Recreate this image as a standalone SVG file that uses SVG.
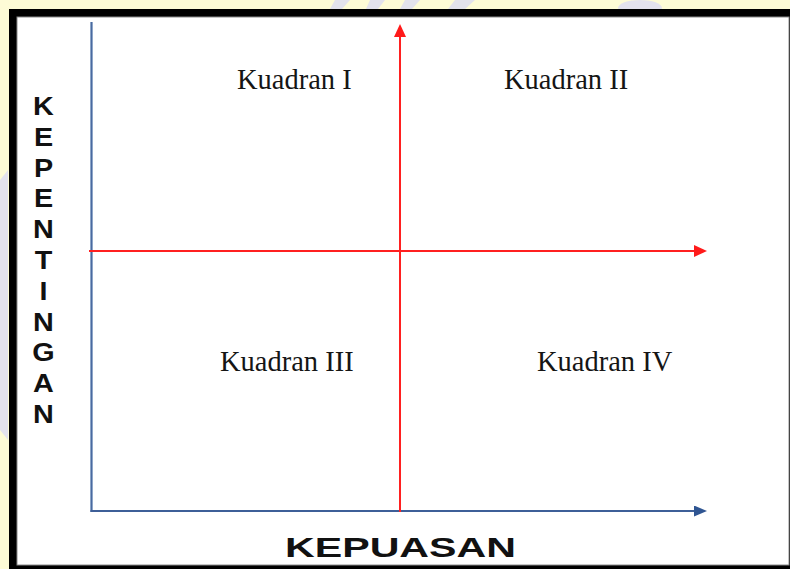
<svg xmlns="http://www.w3.org/2000/svg" width="790" height="569" viewBox="0 0 790 569">
  <defs>
    <style>
      .quad { font-family: "Liberation Serif", "Times New Roman", serif; font-size: 28.5px; fill: #151515; }
      .vlab { font-family: "Liberation Sans", Arial, sans-serif; font-weight: bold; font-size: 25px; fill: #111; text-anchor: middle; }
      .hlab { font-family: "Liberation Sans", Arial, sans-serif; font-weight: bold; font-size: 28px; fill: #111; }
      .blue { stroke: #3e5f98; stroke-width: 2; fill: none; }
      .red { stroke: #ff2020; stroke-width: 2; fill: none; }
    </style>
    <marker id="arrRed" viewBox="0 0 13 12" refX="0" refY="6" markerWidth="13" markerHeight="12" markerUnits="userSpaceOnUse" orient="auto">
      <path d="M0,0 L13,6 L0,12 Z" fill="#ff1a1a"/>
    </marker>
    <marker id="arrBlue" viewBox="0 0 13 11" refX="0" refY="5.5" markerWidth="13" markerHeight="11" markerUnits="userSpaceOnUse" orient="auto">
      <path d="M0,0 L13,5.5 L0,11 Z" fill="#2f5592"/>
    </marker>
  </defs>

  <!-- background with faint watermark -->
  <rect x="0" y="0" width="790" height="569" fill="#fdfbd6"/>
  <g fill="#dcdcf2" opacity="0.8">
    <path d="M335,0 L350,0 L342,9 L330,9 Z"/>
    <path d="M370,0 L385,0 L378,9 L366,9 Z"/>
    <path d="M405,0 L420,0 L412,9 L400,9 Z"/>
    <path d="M455,0 L475,0 L465,9 L448,9 Z"/>
    <ellipse cx="640" cy="8" rx="22" ry="8"/>
    <path d="M0,180 L8,170 L8,440 L0,430 Z"/>
  </g>

  <!-- frame -->
  <rect x="9" y="9" width="800" height="570" fill="#000"/>
  <rect x="17" y="17" width="772" height="548" fill="#fff" stroke="#8a8a8a" stroke-width="1"/>

  <!-- connectors / axes -->
  <g id="connectors">
    <line id="axis-y" x1="91.5" y1="22" x2="91.5" y2="512" stroke="#8ea6c8" stroke-width="3"/>
    <line x1="91.5" y1="22" x2="91.5" y2="512" stroke="#4a6aa0" stroke-width="1"/>
    <line id="axis-x" class="blue" x1="90.5" y1="511" x2="694" y2="511" marker-end="url(#arrBlue)"/>
    <line id="red-v" class="red" x1="400" y1="512" x2="400" y2="37" marker-end="url(#arrRed)"/>
    <line id="red-h" class="red" x1="89" y1="251" x2="694" y2="251" marker-end="url(#arrRed)"/>
  </g>

  <g id="kuadran-1"><text class="quad" x="237" y="89">Kuadran I</text></g>
  <g id="kuadran-2"><text class="quad" x="504" y="89">Kuadran II</text></g>
  <g id="kuadran-3"><text class="quad" x="220" y="371">Kuadran III</text></g>
  <g id="kuadran-4"><text class="quad" x="537" y="371">Kuadran IV</text></g>

  <g id="label-kepentingan" transform="translate(43.5,0) scale(1.15,1)">
    <text class="vlab" x="0" y="115">K</text>
    <text class="vlab" x="0" y="145.8">E</text>
    <text class="vlab" x="0" y="176.6">P</text>
    <text class="vlab" x="0" y="207.4">E</text>
    <text class="vlab" x="0" y="238.2">N</text>
    <text class="vlab" x="0" y="269">T</text>
    <text class="vlab" x="0" y="299.8">I</text>
    <text class="vlab" x="0" y="330.6">N</text>
    <text class="vlab" x="0" y="361.4">G</text>
    <text class="vlab" x="0" y="392.2">A</text>
    <text class="vlab" x="0" y="423">N</text>
  </g>

  <g id="label-kepuasan">
    <text class="hlab" x="285" y="556.5" textLength="231" lengthAdjust="spacingAndGlyphs">KEPUASAN</text>
  </g>
</svg>
